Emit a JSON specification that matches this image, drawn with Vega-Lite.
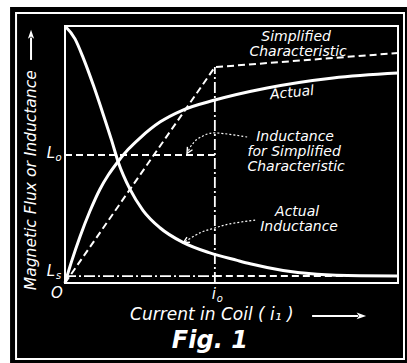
{
  "$schema": "https://vega.github.io/schema/vega-lite/v6.json",
  "width": 333,
  "height": 257,
  "autosize": "none",
  "padding": {"left": 65, "top": 26, "right": 9, "bottom": 80},
  "background": "white",
  "config": {"view": {"stroke": null}},
  "datasets": {
    "frames": [
      {"part": "panel", "x": -0.165, "x2": 1.027, "y": 1.074, "y2": -0.311}
    ],
    "boxes": [
      {"part": "border", "x": -0.147, "x2": 1.018, "y": 1.051, "y2": -0.296},
      {"part": "plot", "x": 0, "x2": 1, "y": 1, "y2": 0}
    ],
    "solid": [
      {"series": "Actual flux", "x": 0, "y": 0},
      {"series": "Actual flux", "x": 0.02, "y": 0.085},
      {"series": "Actual flux", "x": 0.045, "y": 0.18},
      {"series": "Actual flux", "x": 0.075, "y": 0.28},
      {"series": "Actual flux", "x": 0.105, "y": 0.365},
      {"series": "Actual flux", "x": 0.13, "y": 0.42},
      {"series": "Actual flux", "x": 0.156, "y": 0.467},
      {"series": "Actual flux", "x": 0.19, "y": 0.52},
      {"series": "Actual flux", "x": 0.225, "y": 0.564},
      {"series": "Actual flux", "x": 0.285, "y": 0.626},
      {"series": "Actual flux", "x": 0.354, "y": 0.673},
      {"series": "Actual flux", "x": 0.450, "y": 0.712},
      {"series": "Actual flux", "x": 0.607, "y": 0.759},
      {"series": "Actual flux", "x": 0.805, "y": 0.798},
      {"series": "Actual flux", "x": 1.0, "y": 0.817},
      {"series": "Actual inductance", "x": 0, "y": 1.0},
      {"series": "Actual inductance", "x": 0.03, "y": 0.95},
      {"series": "Actual inductance", "x": 0.055, "y": 0.875},
      {"series": "Actual inductance", "x": 0.085, "y": 0.77},
      {"series": "Actual inductance", "x": 0.115, "y": 0.655},
      {"series": "Actual inductance", "x": 0.14, "y": 0.555},
      {"series": "Actual inductance", "x": 0.16, "y": 0.47},
      {"series": "Actual inductance", "x": 0.195, "y": 0.365},
      {"series": "Actual inductance", "x": 0.234, "y": 0.283},
      {"series": "Actual inductance", "x": 0.285, "y": 0.215},
      {"series": "Actual inductance", "x": 0.354, "y": 0.158},
      {"series": "Actual inductance", "x": 0.435, "y": 0.117},
      {"series": "Actual inductance", "x": 0.517, "y": 0.088},
      {"series": "Actual inductance", "x": 0.556, "y": 0.075},
      {"series": "Actual inductance", "x": 0.655, "y": 0.049},
      {"series": "Actual inductance", "x": 0.757, "y": 0.034},
      {"series": "Actual inductance", "x": 0.886, "y": 0.028},
      {"series": "Actual inductance", "x": 1.0, "y": 0.027}
    ],
    "dashed": [
      {"series": "Simplified characteristic", "order": 1, "x": 0, "y": 0},
      {"series": "Simplified characteristic", "order": 2, "x": 0.450, "y": 0.840},
      {"series": "Simplified characteristic", "order": 3, "x": 1.0, "y": 0.895},
      {"series": "Simplified inductance Lo", "order": 1, "x": 0, "y": 0.498},
      {"series": "Simplified inductance Lo", "order": 2, "x": 0.450, "y": 0.498},
      {"series": "Simplified inductance Ls", "order": 1, "x": 0.450, "y": 0.027},
      {"series": "Simplified inductance Ls", "order": 2, "x": 1.0, "y": 0.027}
    ],
    "dashdot": [
      {"series": "i0 line", "order": 1, "x": 0.450, "y": 0},
      {"series": "i0 line", "order": 2, "x": 0.450, "y": 0.840},
      {"series": "Ls line", "order": 1, "x": 0, "y": 0.027},
      {"series": "Ls line", "order": 2, "x": 0.450, "y": 0.027}
    ],
    "leaders": [
      {"series": "leader simplified", "order": 1, "x": 0.547, "y": 0.568},
      {"series": "leader simplified", "order": 2, "x": 0.450, "y": 0.584},
      {"series": "leader simplified", "order": 3, "x": 0.405, "y": 0.566},
      {"series": "leader simplified", "order": 4, "x": 0.381, "y": 0.538},
      {"series": "leader simplified", "order": 5, "x": 0.369, "y": 0.510},
      {"series": "leader actual", "order": 1, "x": 0.571, "y": 0.245},
      {"series": "leader actual", "order": 2, "x": 0.495, "y": 0.230},
      {"series": "leader actual", "order": 3, "x": 0.450, "y": 0.214},
      {"series": "leader actual", "order": 4, "x": 0.405, "y": 0.195},
      {"series": "leader actual", "order": 5, "x": 0.360, "y": 0.160}
    ],
    "notes": [
      {"label": "Simplified", "x": 0.694, "y": 0.957},
      {"label": "Characteristic", "x": 0.700, "y": 0.900},
      {"label": "Inductance", "x": 0.691, "y": 0.568},
      {"label": "for Simplified", "x": 0.688, "y": 0.510},
      {"label": "Characteristic", "x": 0.694, "y": 0.453},
      {"label": "Actual", "x": 0.697, "y": 0.276},
      {"label": "Inductance", "x": 0.703, "y": 0.218}
    ]
  },
  "encoding": {
    "x": {"field": "x", "type": "quantitative", "scale": {"domain": [0, 1]}, "axis": null},
    "y": {"field": "y", "type": "quantitative", "scale": {"domain": [0, 1]}, "axis": null}
  },
  "layer": [
    {
      "data": {"name": "frames"},
      "mark": {"type": "rect", "fill": "black", "clip": false},
      "encoding": {"x2": {"field": "x2"}, "y2": {"field": "y2"}}
    },
    {
      "data": {"name": "boxes"},
      "mark": {"type": "rect", "fill": null, "stroke": "white", "strokeWidth": 2, "clip": false},
      "encoding": {"x2": {"field": "x2"}, "y2": {"field": "y2"}}
    },
    {
      "data": {"name": "dashdot"},
      "mark": {"type": "line", "stroke": "white", "strokeWidth": 1.8, "strokeDash": [11, 3, 2, 3]},
      "encoding": {"detail": {"field": "series"}, "order": {"field": "order"}}
    },
    {
      "data": {"name": "dashed"},
      "mark": {"type": "line", "stroke": "white", "strokeWidth": 2, "strokeDash": [7, 4]},
      "encoding": {"detail": {"field": "series"}, "order": {"field": "order"}}
    },
    {
      "data": {"name": "solid"},
      "mark": {"type": "line", "stroke": "white", "strokeWidth": 3, "interpolate": "monotone"},
      "encoding": {"detail": {"field": "series"}}
    },
    {
      "data": {"name": "leaders"},
      "mark": {"type": "line", "stroke": "white", "strokeWidth": 1.2, "strokeDash": [2, 2], "interpolate": "cardinal"},
      "encoding": {"detail": {"field": "series"}, "order": {"field": "order"}}
    },
    {
      "data": {"values": [{"x": 0.369, "y": 0.510}]},
      "mark": {"type": "point", "shape": "M -0.7 -1 L 0 0.4 L 0.7 -1", "filled": false, "stroke": "white", "strokeWidth": 1.4, "size": 70, "angle": 30, "opacity": 1},
      "encoding": {}
    },
    {
      "data": {"values": [{"x": 0.360, "y": 0.160}]},
      "mark": {"type": "point", "shape": "M -0.7 -1 L 0 0.4 L 0.7 -1", "filled": false, "stroke": "white", "strokeWidth": 1.4, "size": 70, "angle": 59, "opacity": 1},
      "encoding": {}
    },
    {
      "data": {"values": [{"x": 0.742, "x2": 0.88, "y": -0.128}]},
      "mark": {"type": "rule", "stroke": "white", "strokeWidth": 2, "clip": false},
      "encoding": {"x2": {"field": "x2"}}
    },
    {
      "data": {"values": [{"x": 0.89, "y": -0.128}]},
      "mark": {"type": "point", "shape": "M -1 -0.7 L 1 0 L -1 0.7 L -0.5 0 Z", "filled": true, "fill": "white", "size": 90, "opacity": 1, "clip": false},
      "encoding": {}
    },
    {
      "data": {"values": [{"x": -0.102, "y": 0.868, "y2": 0.955}]},
      "mark": {"type": "rule", "stroke": "white", "strokeWidth": 2, "clip": false},
      "encoding": {"y2": {"field": "y2"}}
    },
    {
      "data": {"values": [{"x": -0.102, "y": 0.968}]},
      "mark": {"type": "point", "shape": "M -0.7 1 L 0 -1 L 0.7 1 L 0 0.5 Z", "filled": true, "fill": "white", "size": 80, "opacity": 1, "clip": false},
      "encoding": {}
    },
    {
      "data": {"name": "notes"},
      "mark": {"type": "text", "fill": "white", "font": "DejaVu Sans", "fontStyle": "italic", "fontSize": 14, "baseline": "middle", "align": "center"},
      "encoding": {"text": {"field": "label"}}
    },
    {
      "data": {"values": [{"label": "Actual", "x": 0.682, "y": 0.739}]},
      "mark": {"type": "text", "fill": "white", "font": "DejaVu Sans", "fontStyle": "italic", "fontSize": 14, "baseline": "middle", "align": "center", "angle": -6},
      "encoding": {"text": {"field": "label"}}
    },
    {
      "data": {"values": [
        {"label": "L", "x": -0.042, "y": 0.505},
        {"label": "L", "x": -0.042, "y": 0.047},
        {"label": "O", "x": -0.024, "y": -0.039},
        {"label": "i", "x": 0.447, "y": -0.043}
      ]},
      "mark": {"type": "text", "fill": "white", "font": "DejaVu Sans", "fontStyle": "italic", "fontSize": 15, "baseline": "middle", "align": "center", "clip": false},
      "encoding": {"text": {"field": "label"}}
    },
    {
      "data": {"values": [
        {"label": "o", "x": -0.019, "y": 0.486},
        {"label": "s", "x": -0.019, "y": 0.027},
        {"label": "o", "x": 0.465, "y": -0.062}
      ]},
      "mark": {"type": "text", "fill": "white", "font": "DejaVu Sans", "fontStyle": "italic", "fontSize": 10, "baseline": "middle", "align": "center", "clip": false},
      "encoding": {"text": {"field": "label"}}
    },
    {
      "data": {"values": [{"label": "Current  in  Coil  ( i₁ )", "x": 0.441, "y": -0.125}]},
      "mark": {"type": "text", "fill": "white", "font": "DejaVu Sans", "fontStyle": "italic", "fontSize": 17, "baseline": "middle", "align": "center", "clip": false},
      "encoding": {"text": {"field": "label"}}
    },
    {
      "data": {"values": [{"label": "Magnetic  Flux  or  Inductance", "x": -0.102, "y": 0.40}]},
      "mark": {"type": "text", "fill": "white", "font": "DejaVu Sans", "fontStyle": "italic", "fontSize": 15.5, "baseline": "middle", "align": "center", "angle": -90, "clip": false},
      "encoding": {"text": {"field": "label"}}
    },
    {
      "data": {"values": [{"label": "Fig. 1", "x": 0.435, "y": -0.226}]},
      "mark": {"type": "text", "fill": "white", "font": "DejaVu Sans", "fontStyle": "italic", "fontWeight": "bold", "fontSize": 24, "baseline": "middle", "align": "center", "clip": false},
      "encoding": {"text": {"field": "label"}}
    }
  ]
}
